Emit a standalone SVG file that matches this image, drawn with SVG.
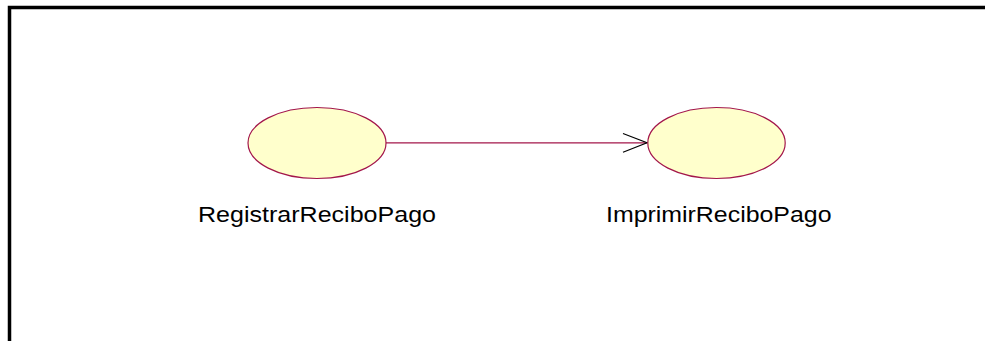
<svg xmlns="http://www.w3.org/2000/svg" width="985" height="341" viewBox="0 0 985 341">
<style>
.uc{fill:#ffffcc;stroke:#a3164a;stroke-width:1.2}
.lbl{font-family:"Liberation Sans",Arial,sans-serif;font-size:22px;fill:#000}
.conn{stroke:#a3164a;stroke-width:1.2;fill:none}
.head{stroke:#000;stroke-width:1.2;fill:none}
</style>
<rect x="0" y="0" width="985" height="341" fill="#fff"/>
<path d="M9.5 341 V7.5 H985" fill="none" stroke="#000" stroke-width="3.5"/>
<g id="connectors">
<line class="conn" x1="386" y1="142.8" x2="647" y2="142.8"/>
<polyline class="head" points="623,133.5 647,142.8 623,152.3"/>
</g>
<g id="node-registrar">
<ellipse class="uc" cx="317" cy="143" rx="69" ry="35.5"/>
<text class="lbl" x="198" y="221.5" textLength="238" lengthAdjust="spacingAndGlyphs">RegistrarReciboPago</text>
</g>
<g id="node-imprimir">
<ellipse class="uc" cx="716.5" cy="143" rx="68.7" ry="35.5"/>
<text class="lbl" x="606" y="221.5" textLength="225.5" lengthAdjust="spacingAndGlyphs">ImprimirReciboPago</text>
</g>
</svg>
